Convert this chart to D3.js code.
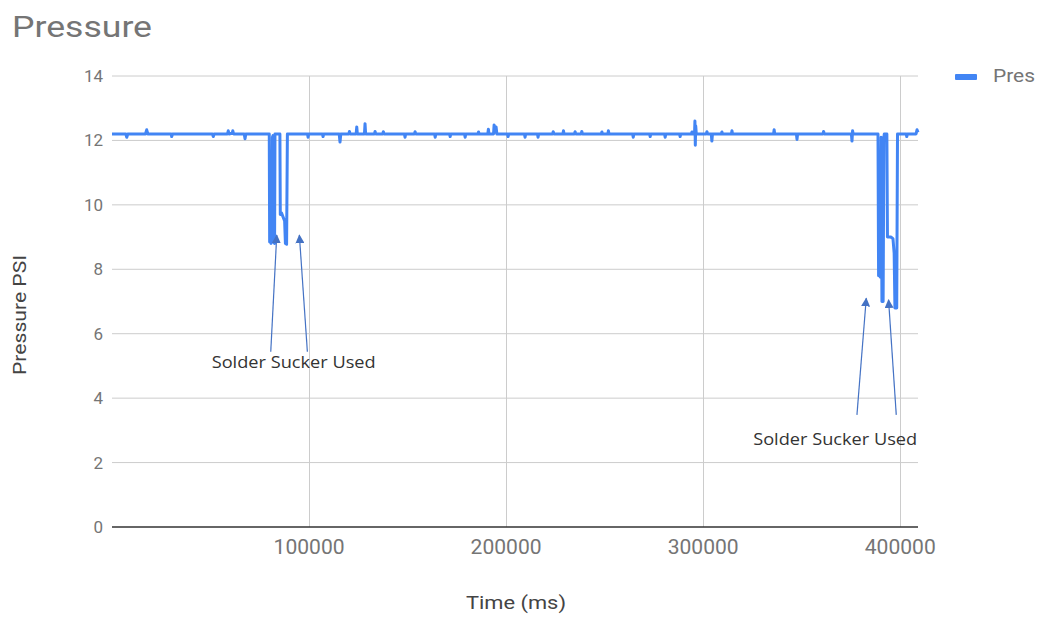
<!DOCTYPE html>
<html>
<head>
<meta charset="utf-8">
<script src="https://cdn.jsdelivr.net/npm/d3@7"></script>
<style>
  body { margin: 0; background: #fff; }
  svg { display: block; font-family: Roboto, "Noto Sans", sans-serif; }
</style>
</head>
<body>
<div id="chart"></div>
<script>
// Pressure readings: [time (ms), pressure (PSI)]
const pressureSeries = [
  [0, 12.2], [7000, 12.2], [7500, 12.1], [8000, 12.2],
  [17000, 12.2], [17600, 12.33], [18200, 12.2],
  [30000, 12.2], [30300, 12.12], [30700, 12.2],
  [51000, 12.2], [51400, 12.12], [51800, 12.2],
  [58600, 12.2], [59000, 12.3], [59400, 12.2],
  [61000, 12.22], [61300, 12.3], [61700, 12.2],
  [67100, 12.2], [67500, 12.05], [67900, 12.2],
  [79800, 12.2], [80000, 8.85], [80400, 11.0], [80700, 8.8], [81100, 8.9],
  [81400, 12.1], [81700, 12.15], [82000, 8.85], [82500, 8.8], [82700, 12.2],
  [85200, 12.2], [85400, 9.7], [86000, 9.75], [87600, 9.5],
  [88000, 8.8], [88600, 8.78], [89000, 12.2],
  [99200, 12.2], [99500, 12.1], [99800, 12.2],
  [106800, 12.2], [107100, 12.12], [107400, 12.2],
  [115300, 12.2], [115700, 11.95], [116100, 12.2],
  [120200, 12.2], [120500, 12.28], [120800, 12.2],
  [123900, 12.2], [124200, 12.42], [124500, 12.2],
  [128100, 12.2], [128400, 12.52], [128700, 12.2],
  [133200, 12.2], [133500, 12.28], [133800, 12.2],
  [137400, 12.2], [137700, 12.27], [138000, 12.2],
  [148400, 12.2], [148700, 12.1], [149000, 12.2],
  [153500, 12.2], [153800, 12.27], [154100, 12.2],
  [163700, 12.2], [164000, 12.1], [164300, 12.2],
  [171300, 12.2], [171600, 12.12], [171900, 12.2],
  [178900, 12.2], [179200, 12.1], [179500, 12.2],
  [185700, 12.2], [186000, 12.26], [186300, 12.2],
  [190700, 12.2], [191000, 12.35], [191300, 12.2],
  [193600, 12.2], [193900, 12.48], [194300, 12.25], [194900, 12.42], [195300, 12.2],
  [200700, 12.2], [201000, 12.12], [201300, 12.2],
  [209300, 12.2], [209600, 12.1], [209900, 12.2],
  [215900, 12.2], [216200, 12.1], [216500, 12.2],
  [223600, 12.2], [223900, 12.27], [224200, 12.2],
  [228800, 12.2], [229100, 12.3], [229400, 12.2],
  [234700, 12.2], [235000, 12.27], [235300, 12.2],
  [238100, 12.2], [238400, 12.28], [238700, 12.2],
  [248300, 12.2], [248600, 12.26], [248900, 12.2],
  [251600, 12.2], [251900, 12.3], [252200, 12.2],
  [264200, 12.2], [264500, 12.1], [264800, 12.2],
  [272800, 12.2], [273100, 12.12], [273400, 12.2],
  [280400, 12.2], [280700, 12.1], [281000, 12.2],
  [288000, 12.2], [288300, 12.12], [288600, 12.2],
  [294000, 12.2], [294300, 12.26], [294600, 12.2],
  [295600, 12.2], [295800, 12.6], [296000, 11.85], [296200, 12.45], [296500, 12.2],
  [301600, 12.2], [301900, 12.27], [302200, 12.2],
  [304100, 12.2], [304400, 11.98], [304700, 12.2],
  [309200, 12.2], [309500, 12.26], [309800, 12.2],
  [314300, 12.2], [314600, 12.3], [314900, 12.2],
  [335700, 12.2], [336000, 12.33], [336300, 12.2],
  [347300, 12.2], [347600, 12.03], [347900, 12.2],
  [360800, 12.2], [361100, 12.28], [361400, 12.2],
  [375200, 12.2], [375500, 11.98], [375800, 12.3], [376100, 12.2],
  [388700, 12.2], [389000, 7.8], [389600, 10.5], [389900, 7.75], [390300, 12.1],
  [390700, 7.0], [391300, 7.0], [391700, 12.1], [391900, 12.2],
  [393200, 12.2], [393500, 9.0], [395200, 9.0], [396300, 8.95], [396900, 8.5],
  [397300, 6.8], [398200, 6.8], [398600, 12.2],
  [403000, 12.2], [403300, 12.12], [403600, 12.2],
  [408000, 12.2], [408500, 12.33], [409000, 12.25]
];

const xTicks = [100000, 200000, 300000, 400000];
const yTicks = [0, 2, 4, 6, 8, 10, 12, 14];
const xDomain = [0, 409000];
const yDomain = [0, 14];

// Hand-drawn arrows, in data units: [tailTime, tailPsi, tipTime, tipPsi]
const arrows = [
  [80560, 5.44, 83600, 9.06],
  [99140, 5.44, 95080, 9.06],
  [378020, 3.48, 382740, 7.10],
  [397970, 3.48, 394060, 7.05]
];
// Annotation labels: [startTime, baselinePsi, text]
const notes = [
  [50600, 4.94, 'Solder Sucker Used'],
  [325380, 2.55, 'Solder Sucker Used']
];

const width = 1039;
const height = 617;
const margin = { top: 76, right: 121, bottom: 90, left: 112 };

const svg = d3.select('#chart')
  .append('svg')
  .attr('width', width)
  .attr('height', height);

const x = d3.scaleLinear()
  .domain(xDomain)
  .range([margin.left, width - margin.right]);

const y = d3.scaleLinear()
  .domain(yDomain)
  .range([height - margin.bottom, margin.top]);

// Title
svg.append('text')
  .attr('x', 12)
  .attr('y', 37)
  .attr('textLength', 140)
  .attr('lengthAdjust', 'spacingAndGlyphs')
  .style('font-size', '30px')
  .style('fill', '#757575')
  .text('Pressure');

// Horizontal gridlines
svg.append('g')
  .selectAll('line')
  .data(yTicks.filter(d => d !== 0))
  .join('line')
  .attr('x1', x.range()[0])
  .attr('x2', x.range()[1])
  .attr('y1', d => y(d))
  .attr('y2', d => y(d))
  .style('stroke', '#cccccc')
  .style('stroke-width', 1);

// Vertical gridlines
svg.append('g')
  .selectAll('line')
  .data(xTicks)
  .join('line')
  .attr('x1', d => Math.round(x(d)) + 0.5)
  .attr('x2', d => Math.round(x(d)) + 0.5)
  .attr('y1', y(14))
  .attr('y2', y(0))
  .style('stroke', '#cccccc')
  .style('stroke-width', 1);

// Y tick labels
svg.append('g')
  .selectAll('text')
  .data(yTicks)
  .join('text')
  .attr('x', 103)
  .attr('y', d => y(d) + 6)
  .attr('text-anchor', 'end')
  .style('font-size', '17px')
  .style('fill', '#757575')
  .text(d => d);

// X tick labels
svg.append('g')
  .selectAll('text')
  .data(xTicks)
  .join('text')
  .attr('x', d => x(d))
  .attr('y', 554)
  .attr('text-anchor', 'middle')
  .attr('textLength', 71)
  .attr('lengthAdjust', 'spacingAndGlyphs')
  .style('font-size', '20px')
  .style('fill', '#757575')
  .text(d => d);

// Baseline
svg.append('line')
  .attr('x1', x.range()[0])
  .attr('x2', x.range()[1])
  .attr('y1', y(0))
  .attr('y2', y(0))
  .style('stroke', '#333333')
  .style('stroke-width', 1.5);

// Axis titles
svg.append('text')
  .attr('x', 516)
  .attr('y', 609)
  .attr('text-anchor', 'middle')
  .attr('textLength', 100)
  .attr('lengthAdjust', 'spacingAndGlyphs')
  .style('font-size', '19px')
  .style('fill', '#444444')
  .text('Time (ms)');

svg.append('text')
  .attr('transform', 'translate(26,315) rotate(-90)')
  .attr('text-anchor', 'middle')
  .attr('textLength', 120)
  .attr('lengthAdjust', 'spacingAndGlyphs')
  .style('font-size', '18px')
  .style('fill', '#444444')
  .text('Pressure PSI');

// Pressure line
const line = d3.line()
  .x(d => x(d[0]))
  .y(d => y(d[1]));

svg.append('path')
  .datum(pressureSeries)
  .attr('d', line)
  .style('fill', 'none')
  .style('stroke', '#4285f4')
  .style('stroke-width', 3)
  .style('stroke-linejoin', 'round');

// Legend
svg.append('rect')
  .attr('x', 955)
  .attr('y', 74)
  .attr('width', 22)
  .attr('height', 6)
  .attr('rx', 1)
  .style('fill', '#4285f4');

svg.append('text')
  .attr('x', 993)
  .attr('y', 82)
  .attr('textLength', 42)
  .attr('lengthAdjust', 'spacingAndGlyphs')
  .style('font-size', '19px')
  .style('fill', '#757575')
  .text('Pres');

// Annotation arrows
svg.append('defs')
  .append('marker')
  .attr('id', 'arrowhead')
  .attr('viewBox', '0 0 10 10')
  .attr('refX', 9)
  .attr('refY', 5)
  .attr('markerWidth', 9)
  .attr('markerHeight', 9)
  .attr('markerUnits', 'userSpaceOnUse')
  .attr('orient', 'auto')
  .append('path')
  .attr('d', 'M0,0 L10,5 L0,10 z')
  .style('fill', '#4472c4');

svg.append('g')
  .selectAll('line')
  .data(arrows)
  .join('line')
  .attr('x1', d => x(d[0]))
  .attr('y1', d => y(d[1]))
  .attr('x2', d => x(d[2]))
  .attr('y2', d => y(d[3]))
  .style('stroke', '#4472c4')
  .style('stroke-width', 1.2)
  .attr('marker-end', 'url(#arrowhead)');

svg.append('g')
  .selectAll('text')
  .data(notes)
  .join('text')
  .attr('x', d => x(d[0]))
  .attr('y', d => y(d[1]))
  .attr('textLength', 164)
  .attr('lengthAdjust', 'spacingAndGlyphs')
  .style('font-family', '"Open Sans", "Liberation Sans", sans-serif')
  .style('font-size', '17px')
  .style('fill', '#333333')
  .text(d => d[2]);
</script>
</body>
</html>
